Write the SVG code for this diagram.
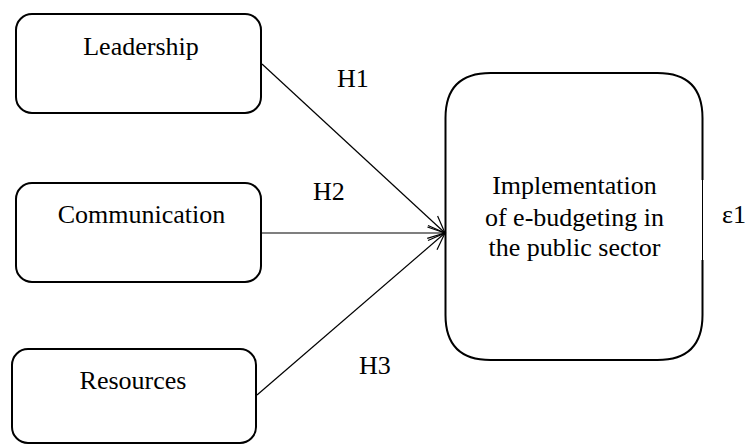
<svg xmlns="http://www.w3.org/2000/svg" width="745" height="445" viewBox="0 0 745 445">
  <style>
    .box { fill: #ffffff; stroke: #000000; stroke-width: 2; }
    .link { stroke: #000000; stroke-width: 1.2; fill: none; marker-end: url(#openArrow); }
  </style>
  <defs>
    <marker id="openArrow" markerWidth="20" markerHeight="18" refX="18" refY="9" orient="auto" markerUnits="userSpaceOnUse">
      <path d="M1,1.5 L18,9 L1,16.5" fill="none" stroke="#000000" stroke-width="1.2"/>
    </marker>
  </defs>
  <rect width="745" height="445" fill="#ffffff"/>

  <g font-family="Liberation Serif, DejaVu Serif, serif" font-size="26" fill="#000000">
    <g id="node-leadership">
      <rect class="box" x="16" y="14" width="245" height="99" rx="16" ry="16"/>
      <text text-anchor="middle" x="141" y="55">Leadership</text>
    </g>

    <g id="node-communication">
      <rect class="box" x="16" y="183" width="245" height="99" rx="16" ry="16"/>
      <text text-anchor="middle" x="141.5" y="223">Communication</text>
    </g>

    <g id="node-resources">
      <rect class="box" x="12" y="349" width="244" height="94" rx="16" ry="16"/>
      <text text-anchor="middle" x="133" y="389">Resources</text>
    </g>

    <g id="node-implementation">
      <!-- rounded outline, right side left open where the thin error line sits -->
      <path class="box" d="M702.5,260 L702.5,315 Q702.5,360 657.5,360 L490.5,360 Q445.5,360 445.5,315 L445.5,118 Q445.5,73 490.5,73 L657.5,73 Q702.5,73 702.5,118 L702.5,180"/>
      <line x1="702.5" y1="180" x2="702.5" y2="260" stroke="#000000" stroke-width="1"/>
      <text text-anchor="middle" x="574.5" y="194">Implementation</text>
      <text text-anchor="middle" x="574.5" y="226">of e-budgeting in</text>
      <text text-anchor="middle" x="574.5" y="256">the public sector</text>
    </g>

    <g id="error-term">
      <text x="722" y="223">ε1</text>
    </g>

    <g id="connectors">
      <line class="link" x1="262" y1="64" x2="445" y2="233"/>
      <line class="link" x1="262" y1="233" x2="445" y2="233"/>
      <line class="link" x1="257" y1="395" x2="445" y2="233"/>
      <text x="337" y="87">H1</text>
      <text x="313" y="200">H2</text>
      <text x="359" y="374">H3</text>
    </g>
  </g>
</svg>
